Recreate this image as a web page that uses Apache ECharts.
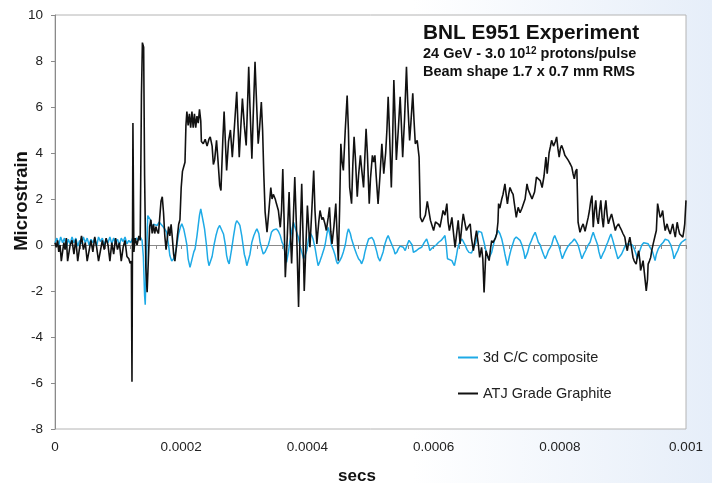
<!DOCTYPE html>
<html>
<head>
<meta charset="utf-8">
<script src="https://cdn.jsdelivr.net/npm/echarts@6/dist/echarts.min.js"></script>
<style>
html,body{margin:0;padding:0;}
body{width:712px;height:483px;background:linear-gradient(to right,#ffffff 0%,#ffffff 58%,#e6eef9 100%);}
#chart{width:712px;height:483px;}
</style>
</head>
<body>
<div id="chart"></div>
<script>
// Time in microseconds, values in microstrain
var xTickLabels = ['0','0.0002','0.0004','0.0006','0.0008','0.001'];
var yTicks = [-8,-6,-4,-2,0,2,4,6,8,10];
var seriesNames = ['3d C/C composite','ATJ Grade Graphite'];

var blackT = [0,2,4,6,8,10,12,14,16,18,20,22,24,27,30,33,36,39,42,45,48,51,54,57,60,63,66,69,72,75,78,81,84,87,90,93,96,99,102,105,108,111,114,117,119,121,122,123.5,125,127,130,133,135,137,138.5,140.5,142,144,146,148,150,152,154,156,158,160,162,164,166,168,170,172,174,176,178,180,182,184,186,188,190,192,194,196,198,200,202,204,206,207.5,209,211,213,215,217,219,221,223,225,227,229,231,232,235,238,241,244,246,249,251,253,256,258,261,263,266,268,270,272,275,278,281,284,288,290,292,294,297,300,303,305,307,309,312,314,317,319,322,324,327,329,331,333,336,339,342,344,346,349,351,354,357,359,361,363,365,368,371,373,375,377,380,383,386,388,391,393,395,397,400,402,404,407,410,412,415,418,420,423,425,428,430,433,435,437,439,442,445,447,449,451,453,455,457,460,463,465,467,470,472,474,476,479,481,484,486,489,491,493,495,498,500,503,505,507,509,512,515,518,521,524,526,528,530,533,535,537,539,541,544,547,549,551,554,557,559,562,564,567,569,571,574,577,579,582,584,587,590,592,595,598,600,603,605,608,610,613,615,618,621,623,625,627,629,632,634,637,639,642,645,647,650,652,655,658,660,663,666,668,671,673,676,678,680,682,683,686,688,690,692,694,696,698,700,702,703,705,708,710,713,715,717,719,721,724,726,728,731,733,734,737,740,742,745,748,750,753,756,758,760,763,766,769,772,775,778,780,783,785,787,790,793,795,797,799,801,803,806,808,810,813,815,817,819,821,823,825,827,829,832,835,837,840,842,845,847,849,851,853,855,857,859,861,863,865,867,869,871,873,875,877,880,882,885,888,890,893,895,898,900,903,905,907,909,911,913,916,918,921,923,925,927,928,930,932,934,937,939,940,942,944,946,948,951,953,955,957,959,961,963,965,967,970,972,975,977,979,981,983,986,988,990,993,995,997,998,1000];
var blackV = [0.1,-0.1,0.2,-0.3,0.0,-0.7,-0.7,0.1,-0.2,0.3,-0.7,-0.7,0.0,0.2,-0.4,0.25,-0.7,-0.1,0.4,-0.2,0.1,-0.7,-0.7,0.2,-0.3,0.35,-0.1,-0.7,-0.7,0.2,-0.2,0.3,0.0,-0.7,0.1,-0.4,0.3,-0.2,0.1,-0.7,-0.1,0.2,-0.5,-0.6,-0.8,-0.7,-5.95,5.3,-0.3,0.3,0.0,0.4,0.2,6.5,8.8,8.6,3.0,-1.0,-2.05,-0.6,0.8,1.1,0.5,0.9,0.5,0.8,0.6,0.5,1.2,1.9,2.1,1.4,0.4,-0.2,0.3,0.8,0.4,0.9,0.3,-0.4,-0.7,-0.2,0.4,0.9,1.1,2.5,3.2,3.4,3.6,5.2,5.8,5.2,5.7,5.1,5.8,5.1,5.7,5.1,5.6,5.3,5.9,5.4,4.5,4.4,4.6,4.3,4.6,4.7,4.3,3.5,3.7,4.55,3.8,2.6,2.37,4.6,5.8,4.5,3.24,4.5,5.0,3.82,5.0,6.66,5.2,3.82,4.9,6.37,5.2,4.33,6.0,7.75,6.0,3.75,5.5,7.97,6.5,4.4,5.0,6.22,5.0,3.0,1.43,0.56,1.5,2.5,2.0,2.2,2.0,1.79,1.5,0.77,1.5,3.3,1.2,-1.4,0.3,2.3,0.5,-0.8,0.6,2.95,0.5,-2.7,0.0,2.66,0.5,-2.0,-0.5,1.72,0.8,-0.1,1.5,3.24,1.5,0.05,1.0,1.5,1.1,1.2,0.9,0.63,1.2,1.64,0.6,0.05,0.8,1.8,0.5,-0.68,1.5,4.4,3.6,3.24,5.0,6.5,5.0,2.5,1.8,3.5,4.7,3.8,2.1,3.0,3.9,3.3,2.5,3.8,5.05,4.0,1.8,2.9,3.9,3.6,3.9,3.0,1.79,3.0,4.4,3.1,4.0,5.0,6.44,5.0,2.5,4.5,7.17,5.5,3.7,5.0,6.44,5.2,3.82,5.5,7.75,6.2,4.55,5.3,6.6,5.4,4.4,4.55,3.82,1.2,1.0,1.07,1.3,1.9,1.94,1.07,0.8,0.63,1.0,1.07,0.9,0.77,1.2,1.5,1.3,1.8,1.0,0.63,0.9,1.2,0.4,-0.1,0.6,1.07,0.05,0.9,1.35,0.9,0.63,0.8,0.92,0.3,-0.25,0.3,0.63,0.0,-0.54,-0.1,-0.6,-2.06,-0.8,-0.25,-0.5,-0.68,-0.2,0.19,0.1,0.05,0.3,0.48,1.0,1.8,1.6,2.0,2.2,2.66,2.2,1.79,2.2,2.5,2.3,2.2,1.8,1.2,1.5,1.64,1.4,1.6,1.64,2.0,2.66,2.4,2.2,2.0,1.94,2.3,2.95,2.95,2.8,2.5,3.0,3.82,3.1,4.0,4.26,4.55,4.3,4.5,4.7,4.2,3.82,4.2,4.33,4.1,3.9,3.82,3.7,3.6,3.5,3.39,3.1,2.88,3.2,3.3,0.99,0.55,0.8,0.92,0.6,0.55,1.2,1.5,1.9,2.15,0.77,1.5,1.94,1.2,0.92,1.5,1.94,1.2,0.77,1.5,1.94,1.3,0.92,1.2,1.35,1.0,0.63,0.8,0.92,0.8,0.63,0.5,0.34,0.0,-0.25,0.1,0.34,0.0,-0.54,-0.7,-0.83,-0.5,-0.25,-0.7,-1.11,-0.9,-0.68,-1.2,-2.0,-1.5,-0.83,-0.7,-0.54,-0.2,0.05,0.4,0.63,1.8,1.5,1.2,1.3,1.5,1.0,0.63,0.92,0.7,0.48,0.7,0.92,0.6,0.34,0.99,0.7,0.48,0.4,0.34,0.7,0.92,1.94];

var cyanT = [0,3,6,9,12,15,18,21,24,27,30,33,36,39,42,45,48,51,54,57,60,63,66,69,72,75,78,81,84,87,90,93,96,99,102,105,108,111,114,117,120,123,126,129,132,135,138,140,142,143,145,147,149,151,153,156,159,162,165,168,171,174,177,180,182,185,188,191,193,196,199,201,204,207,209,211,214,217,220,222,225,227,229,231,233,235,237,240,242,244,246,249,252,255,258,261,264,267,270,272,274,276,278,280,283,286,288,291,293,296,298,300,302,304,306,309,312,315,318,320,323,325,328,330,333,335,338,340,343,346,349,351,354,357,360,362,365,367,370,372,375,378,380,383,386,388,391,394,397,399,402,404,407,409,412,415,417,420,423,426,428,431,433,436,438,441,444,446,448,451,454,457,460,463,465,468,470,473,475,478,481,484,486,489,491,494,497,500,502,505,507,510,512,515,517,520,523,526,528,531,534,537,539,542,544,547,549,552,555,558,561,563,566,568,571,573,577,581,585,589,592,594,597,600,604,608,612,615,618,620,622,625,629,631,633,636,638,641,645,648,650,653,656,660,663,667,671,676,681,684,687,692,697,702,705,708,711,713,717,720,723,728,731,734,737,740,743,745,749,752,755,758,761,764,766,769,771,774,777,780,782,785,787,790,792,795,798,801,804,808,812,816,820,823,826,829,832,835,838,841,845,848,851,853,856,860,862,865,868,871,874,876,879,881,884,886,889,892,895,898,901,904,908,911,915,918,921,923,926,930,933,936,940,943,947,951,953,956,960,964,967,969,972,976,979,981,984,987,990,993,997,1000];
var cyanV = [0.1,0.3,0.0,0.35,0.1,0.3,-0.1,0.25,0.05,0.35,0.1,0.3,-0.05,0.2,0.05,0.35,0.1,0.3,0.0,0.25,0.1,0.3,-0.05,0.35,0.15,0.3,0.0,0.25,0.1,0.35,0.05,0.3,0.1,0.25,0.0,0.3,0.15,0.35,0.05,0.2,0.1,0.3,0.15,0.3,0.2,0.35,0.2,-0.5,-2.2,-2.6,-0.5,1.28,1.35,1.1,0.7,0.9,0.95,0.85,1.0,0.9,0.8,0.7,0.55,0.0,-0.46,-0.7,-0.6,-0.3,-0.03,0.5,0.8,0.92,0.7,0.3,0.0,-0.6,-0.97,-0.9,-0.3,-0.17,0.4,0.85,1.3,1.57,1.5,1.0,0.7,0.0,-0.6,-0.9,-0.97,-0.5,0.0,0.4,0.7,0.85,0.8,0.48,0.0,-0.46,-0.7,-0.82,-0.5,-0.17,0.4,0.9,1.06,0.95,0.85,0.4,0.0,-0.4,-0.6,-0.9,-0.97,-0.4,0.12,0.4,0.6,0.7,0.5,0.12,-0.2,-0.39,-0.3,-0.24,0.0,0.2,0.55,0.65,0.7,0.7,0.6,0.41,0.1,0.0,-0.39,-0.75,-0.3,0.12,0.6,0.99,0.8,0.55,0.3,0.0,-0.3,-0.6,-0.4,-0.24,0.3,0.55,0.4,0.26,-0.1,-0.6,-0.9,-0.7,-0.46,-0.2,0.0,0.5,0.77,0.4,0.0,-0.2,-0.46,-0.7,-0.82,-0.7,-0.54,-0.3,0.0,0.5,0.7,0.5,0.26,0.0,-0.17,-0.4,-0.6,-0.7,-0.82,-0.6,-0.32,0.0,0.26,0.3,0.33,0.2,0.0,-0.3,-0.54,-0.7,-0.75,-0.3,0.05,0.3,0.41,0.2,0.0,-0.2,-0.39,-0.3,-0.17,-0.05,0.0,-0.1,-0.24,0.0,0.2,0.26,0.0,-0.32,-0.3,-0.24,-0.15,-0.1,0.1,0.26,0.0,-0.24,-0.15,-0.1,0.0,0.12,0.2,0.3,0.41,0.0,-0.6,-0.65,-0.68,-0.8,-0.9,-0.5,-0.17,0.1,0.26,0.1,0.0,-0.2,-0.32,-0.35,-0.39,0.1,0.6,0.55,0.0,-0.4,-0.6,-0.32,0.26,0.63,0.5,0.26,-0.1,-0.39,-0.9,-0.5,-0.17,0.26,0.35,0.41,0.2,0.0,-0.3,-0.6,-0.32,0.0,0.19,0.4,0.55,0.3,0.12,0.0,-0.17,-0.4,-0.6,-0.4,-0.24,-0.1,0.0,0.3,0.41,0.2,0.0,-0.3,-0.6,-0.32,-0.1,0.05,0.15,0.26,0.15,0.0,-0.3,-0.6,-0.4,-0.24,0.0,0.12,0.4,0.55,0.3,0.0,-0.3,-0.6,-0.4,-0.24,0.0,0.12,0.35,0.48,0.2,0.0,-0.3,-0.6,-0.5,-0.39,-0.2,0.0,0.05,0.12,0.0,-0.17,-0.4,-0.6,-0.3,0.0,0.1,0.12,0.05,0.0,-0.3,-0.68,-0.4,-0.17,0.0,0.12,0.25,0.33,0.2,0.0,-0.3,-0.6,-0.4,-0.24,0.0,0.12,0.2,0.26];

function pairs(ts, vs){ var out=[]; for(var i=0;i<ts.length;i++){ out.push([ts[i]/1e6, vs[i]]); } return out; }

var FONT = '"Liberation Sans", Arial, sans-serif';
var chart = echarts.init(document.getElementById('chart'), null, {renderer:'canvas'});
chart.setOption({
  backgroundColor: 'transparent',
  animation: false,
  grid: {left:55, right:26, top:15, bottom:54, show:true, backgroundColor:'#ffffff', borderColor:'#b4b4b4', borderWidth:1},
  legend: {
    data: seriesNames, orient:'vertical', left:458, top:350, padding:0, itemWidth:20, itemHeight:2, itemGap:21, icon:'rect',
    textStyle:{fontFamily:FONT, fontSize:14.5, color:'#222'}
  },
  xAxis: {
    type:'value', min:0, max:0.001, interval:0.0002,
    axisLine:{show:true, lineStyle:{color:'#8a8a8a', width:1}},
    axisTick:{show:true, length:4, lineStyle:{color:'#8a8a8a'}},
    minorTick:{show:true, splitNumber:5, length:4, lineStyle:{color:'#8a8a8a'}},
    splitLine:{show:false},
    axisLabel:{margin:11, fontFamily:FONT, fontSize:13.5, color:'#222',
      formatter:function(v){ var i=Math.round(v/0.0002); return xTickLabels[i]; }}
  },
  yAxis: {
    type:'value', min:yTicks[0], max:yTicks[yTicks.length-1], interval:2,
    axisLine:{show:true, lineStyle:{color:'#8a8a8a', width:1}},
    axisTick:{show:true, length:4, lineStyle:{color:'#8a8a8a'}},
    splitLine:{show:false},
    axisLabel:{margin:12, fontFamily:FONT, fontSize:13.5, color:'#222'}
  },
  series: [
    {name:seriesNames[0], type:'line', data:pairs(cyanT, cyanV), symbol:'none', showSymbol:false,
     lineStyle:{color:'#1eaae6', width:1.5}, itemStyle:{color:'#1eaae6'}, z:2},
    {name:seriesNames[1], type:'line', data:pairs(blackT, blackV), symbol:'none', showSymbol:false,
     lineStyle:{color:'#111111', width:1.6}, itemStyle:{color:'#111111'}, z:3}
  ],
  graphic: [
    {type:'text', left:423, top:23, style:{text:'BNL E951 Experiment', font:'bold 20.8px '+FONT, fill:'#111'}},
    {type:'text', left:423, top:46, style:{text:'24 GeV - 3.0 10{sup|12} protons/pulse', font:'bold 14.5px '+FONT, fill:'#111',
      rich:{sup:{fontSize:10, fontWeight:'bold', fontFamily:FONT, fill:'#111', verticalAlign:'top'}}}},
    {type:'text', left:423, top:64, style:{text:'Beam shape 1.7 x 0.7 mm RMS', font:'bold 14.5px '+FONT, fill:'#111'}},
    {type:'text', x:22, y:201, rotation:Math.PI/2, style:{text:'Microstrain', font:'bold 18.5px '+FONT, fill:'#111', align:'center', verticalAlign:'middle'}},
    {type:'text', x:357, y:476, style:{text:'secs', font:'bold 17px '+FONT, fill:'#111', align:'center', verticalAlign:'middle'}}
  ]
});
</script>
</body>
</html>
